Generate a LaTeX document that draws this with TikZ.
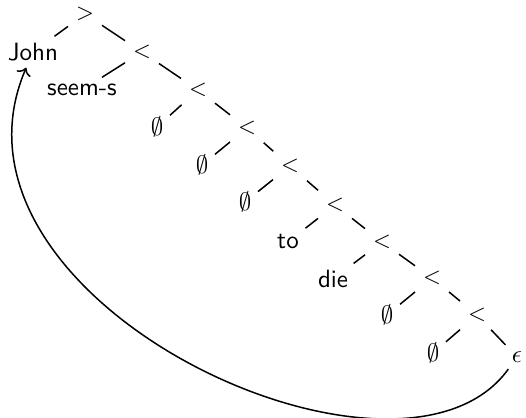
\documentclass[tikz,border=0pt]{standalone}
\usetikzlibrary{arrows.meta}
\tikzset{
  lbl/.style={font=\sffamily,inner sep=2.5pt},
  hd/.style={font=\sffamily\small,inner sep=3pt},
  br/.style={draw=black,line width=0.6pt},
  mv/.style={->,draw=black,line width=0.6pt},
}
\begin{document}
\begin{tikzpicture}[x=0.4pt,y=-0.4pt]
\useasboundingbox (0,0) rectangle (526,418);
% spine of heads
\foreach \i/\x/\y/\t in {0/85/14/>,1/142/52/<,2/198/90/<,3/247/128/<,4/290/166/<,5/335/205/<,6/382/242/<,7/432/278/<,8/477/315/<}{
  \node[hd] (h\i) at (\x,\y) {\t};}
\node[lbl] (eps) at (517,357) {$\epsilon$};
% left daughters
\foreach \i/\x/\y/\t in {0/33/52/John,1/82/90/seem-s,2/157/127/$\emptyset$,3/202/165/$\emptyset$,4/245/202/$\emptyset$,5/288/242/to,6/333/279/die,7/387/315/$\emptyset$,8/433/353/$\emptyset$}{
  \node[lbl] (c\i) at (\x,\y) {\t};}
\foreach \i/\j in {0/1,1/2,2/3,3/4,4/5,5/6,6/7,7/8}{
  \draw[br] (h\i) -- (h\j);}
\draw[br] (h8) -- (eps);
\foreach \i in {0,...,8}{
  \draw[br] (h\i) -- (c\i);}
% movement
\draw[mv] (eps) .. controls +(-117,163) and +(-108,250) .. (c0);
\end{tikzpicture}
\end{document}
